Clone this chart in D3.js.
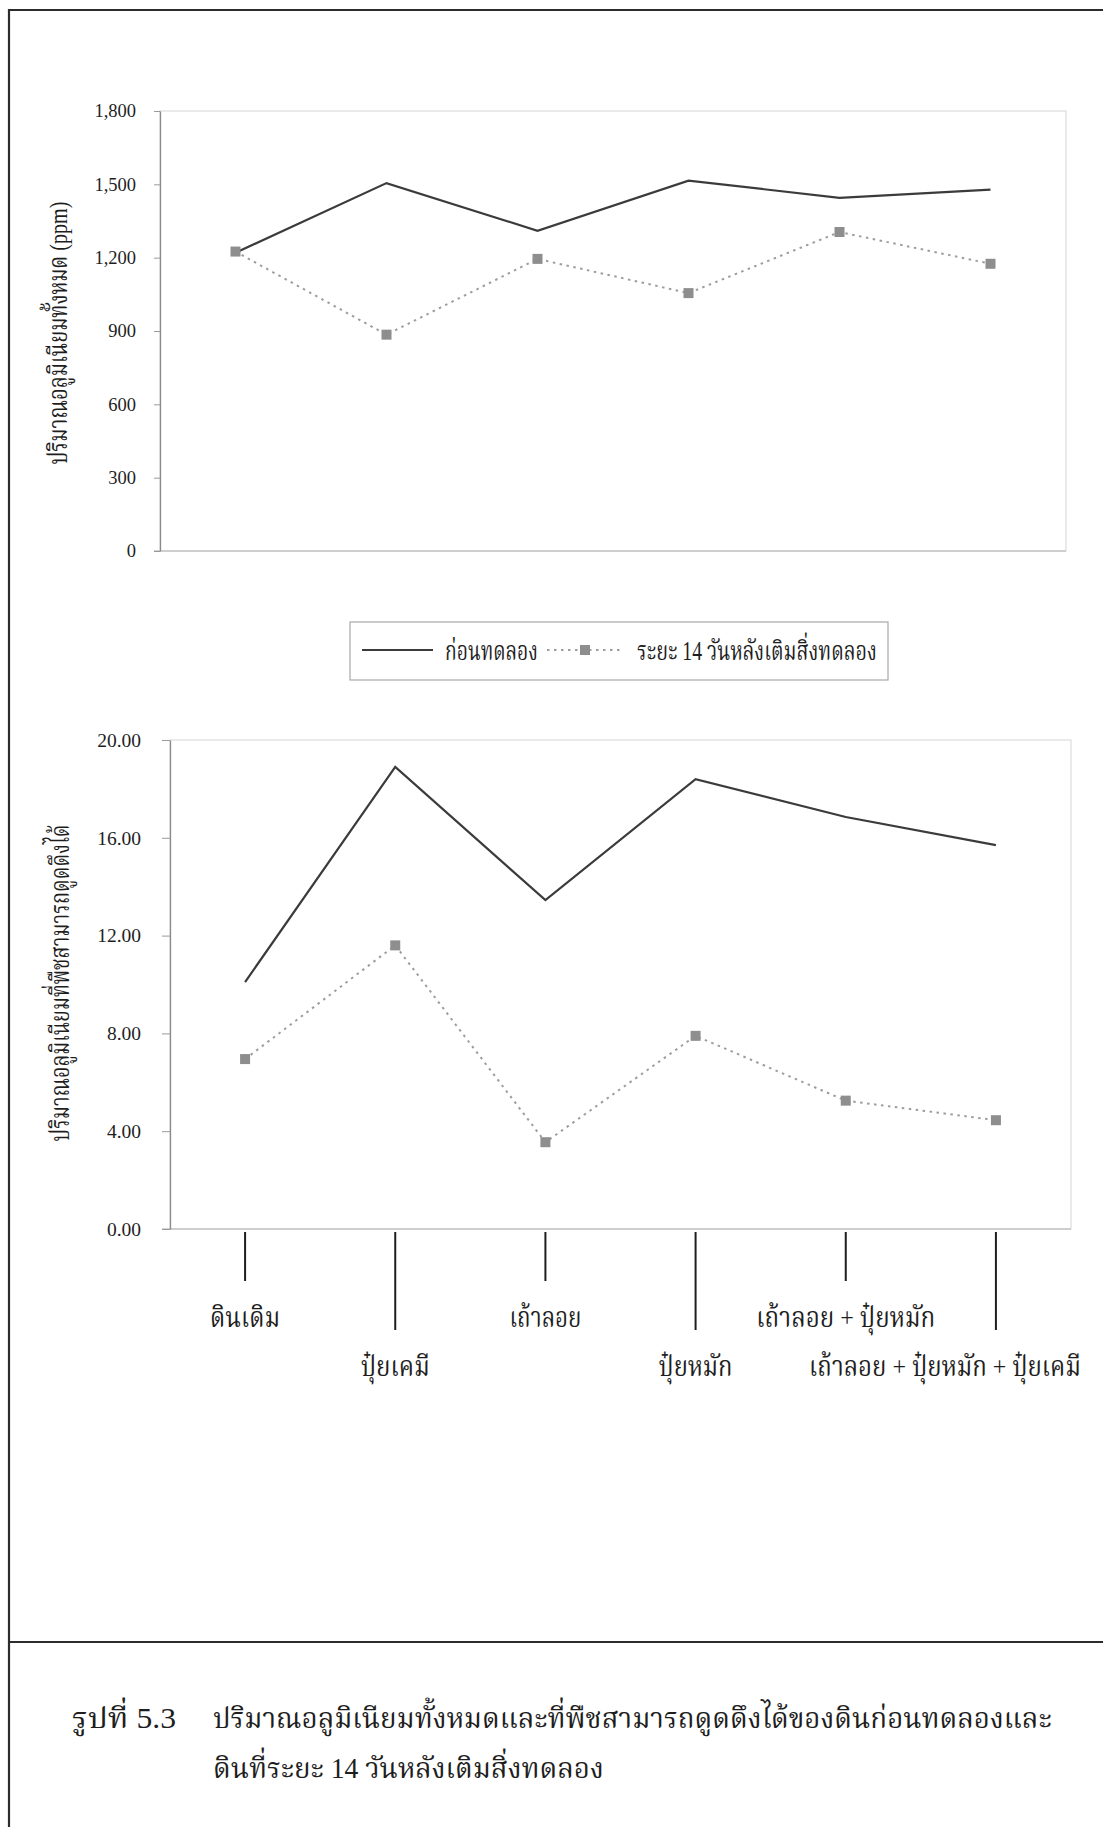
<!DOCTYPE html>
<html>
<head>
<meta charset="utf-8">
<script src="https://cdn.jsdelivr.net/npm/d3@7"></script>
<style>
  html, body { margin: 0; padding: 0; background: #ffffff; }
  svg { display: block; }
</style>
</head>
<body>
<svg id="fig" width="1103" height="1827"></svg>
<script>
// ---- data ----
const categories = [
  "ดินเดิม",
  "ปุ๋ยเคมี",
  "เถ้าลอย",
  "ปุ๋ยหมัก",
  "เถ้าลอย + ปุ๋ยหมัก",
  "เถ้าลอย + ปุ๋ยหมัก + ปุ๋ยเคมี"
];
const seriesNames = ["ก่อนทดลอง", "ระยะ 14 วันหลังเติมสิ่งทดลอง"];

// total aluminium (ppm)
const totalBefore = [1220, 1505, 1310, 1515, 1445, 1478];
const totalAfter14 = [1225, 885, 1195, 1055, 1305, 1175];

// plant-available aluminium
const availBefore = [10.1, 18.9, 13.45, 18.4, 16.85, 15.7];
const availAfter14 = [6.95, 11.6, 3.55, 7.9, 5.25, 4.45];

const totalTicks = [0, 300, 600, 900, 1200, 1500, 1800];
const availTicks = [0, 4, 8, 12, 16, 20];

const totalTitle = "ปริมาณอลูมิเนียมทั้งหมด (ppm)";
const availTitle = "ปริมาณอลูมิเนียมที่พืชสามารถดูดดึงได้";
const captionNo = "รูปที่ 5.3";
const captionLines = [
  "ปริมาณอลูมิเนียมทั้งหมดและที่พืชสามารถดูดดึงได้ของดินก่อนทดลองและ",
  "ดินที่ระยะ 14 วันหลังเติมสิ่งทดลอง"
];

// ---- styling ----
const textFont = "'Liberation Serif', 'Noto Serif Thai', 'Noto Sans Thai', 'Loma', 'Garuda', 'Norasi', serif";
const numFont = "'Liberation Serif', 'Times New Roman', serif";
const inkColor = "#1e1e1e";
const solidColor = "#3b3b3b";
const dotColor = "#9d9d9d";
const markerColor = "#8e8e8e";
const frameColor = "#2c2c2c";

// Thai text squeezed horizontally to a given width (narrow document face)
function fitText(parent, str, o) {
  const t = parent.append("text")
    .attr("font-family", textFont).attr("font-size", o.size)
    .attr("fill", inkColor).attr("text-anchor", o.anchor || "start")
    .text(str);
  const natural = t.node().getComputedTextLength() || o.w;
  const sx = o.w / natural;
  t.attr("transform",
    `translate(${o.x},${o.y})${o.rotate ? ` rotate(${o.rotate})` : ""} scale(${sx},1)`);
  return t;
}

const svg = d3.select("#fig");

// page frame and caption separator
svg.append("path")
  .attr("d", "M9,1830 V10 H1110")
  .attr("fill", "none").attr("stroke", frameColor).attr("stroke-width", 2.2);
svg.append("line")
  .attr("x1", 9).attr("x2", 1110).attr("y1", 1642).attr("y2", 1642)
  .attr("stroke", frameColor).attr("stroke-width", 2.2);

function drawPanel(p) {
  const x = d3.scaleBand().domain(categories).range([p.x0, p.x1]);
  const y = d3.scaleLinear().domain([0, d3.max(p.ticks)]).range([p.y1, p.y0]);
  const cx = c => x(c) + x.bandwidth() / 2;
  const g = svg.append("g");

  // plot area outline
  g.append("rect")
    .attr("x", p.x0).attr("y", p.y0)
    .attr("width", p.x1 - p.x0).attr("height", p.y1 - p.y0)
    .attr("fill", "none").attr("stroke", "#d5d5d5").attr("stroke-width", 1);
  g.append("line")
    .attr("x1", p.x0 - p.tickSize).attr("x2", p.x1)
    .attr("y1", y(0)).attr("y2", y(0))
    .attr("stroke", "#c4c4c4").attr("stroke-width", 1.6);

  // value axis
  const ax = g.append("g")
    .attr("transform", `translate(${p.x0},0)`)
    .call(d3.axisLeft(y).tickValues(p.ticks).tickFormat(p.fmt)
      .tickSize(p.tickSize).tickPadding(p.tickPad).tickSizeOuter(0));
  ax.select(".domain").attr("stroke", "#8a8a8a").attr("stroke-width", 1.3);
  ax.selectAll(".tick line").attr("stroke", "#9a9a9a").attr("stroke-width", 1);
  ax.selectAll(".tick text")
    .attr("font-family", numFont).attr("font-size", p.numSize).attr("fill", inkColor);

  // axis title
  fitText(g, p.title, { x: p.titleX, y: p.titleY, w: p.titleW, size: 26, anchor: "middle", rotate: -90 });

  // series
  const line = d3.line().x((d, i) => cx(categories[i])).y(d => y(d));
  g.append("path").datum(p.before).attr("d", line)
    .attr("fill", "none").attr("stroke", solidColor).attr("stroke-width", 2.2)
    .attr("stroke-linejoin", "miter");
  g.append("path").datum(p.after).attr("d", line)
    .attr("fill", "none").attr("stroke", dotColor).attr("stroke-width", 2)
    .attr("stroke-dasharray", "2.5,4.5");
  g.selectAll("rect.mk").data(p.after).join("rect").attr("class", "mk")
    .attr("x", (d, i) => cx(categories[i]) - 5).attr("y", d => y(d) - 5)
    .attr("width", 10).attr("height", 10).attr("fill", markerColor);

  return { x, y, cx };
}

const totalPanel = drawPanel({
  x0: 160, x1: 1066, y0: 111, y1: 551,
  ticks: totalTicks, fmt: d3.format(","), tickSize: 6, tickPad: 18, numSize: 18.5,
  title: totalTitle, titleX: 67, titleY: 333, titleW: 263,
  before: totalBefore, after: totalAfter14
});

const availPanel = drawPanel({
  x0: 170, x1: 1071, y0: 740, y1: 1229,
  ticks: availTicks, fmt: d3.format(".2f"), tickSize: 8, tickPad: 21, numSize: 19.5,
  title: availTitle, titleX: 69, titleY: 983, titleW: 317,
  before: availBefore, after: availAfter14
});

// legend
const lg = svg.append("g");
lg.append("rect").attr("x", 350).attr("y", 622).attr("width", 538).attr("height", 58)
  .attr("fill", "#fff").attr("stroke", "#a8a8a8").attr("stroke-width", 1.2);
lg.append("line").attr("x1", 362).attr("x2", 433).attr("y1", 650).attr("y2", 650)
  .attr("stroke", solidColor).attr("stroke-width", 2.2);
fitText(lg, seriesNames[0], { x: 445, y: 660, w: 93, size: 27 });
lg.append("line").attr("x1", 547).attr("x2", 620).attr("y1", 650).attr("y2", 650)
  .attr("stroke", dotColor).attr("stroke-width", 2).attr("stroke-dasharray", "2.5,4.5");
lg.append("rect").attr("x", 580).attr("y", 645).attr("width", 10).attr("height", 10)
  .attr("fill", markerColor);
fitText(lg, seriesNames[1], { x: 637, y: 660, w: 240, size: 27 });

// category ticks and labels under the lower panel (two staggered rows);
// a long name is pulled back so it stays inside the page
const catWidths = [70, 69, 72, 74, 179, 272];
const labelRight = 1081;
const cg = svg.append("g");
categories.forEach((c, i) => {
  const xc = availPanel.cx(c);
  const lower = i % 2 === 1;
  cg.append("line")
    .attr("x1", xc).attr("x2", xc)
    .attr("y1", 1232).attr("y2", lower ? 1330 : 1281)
    .attr("stroke", inkColor).attr("stroke-width", 2);
  const w = catWidths[i];
  const lx = Math.min(xc, labelRight - w / 2);
  fitText(cg, c, { x: lx, y: lower ? 1376 : 1327, w, size: 28, anchor: "middle" });
});

// caption
const cap = svg.append("g");
fitText(cap, captionNo, { x: 72, y: 1728, w: 104, size: 29 });
fitText(cap, captionLines[0], { x: 213, y: 1728, w: 839, size: 29 });
fitText(cap, captionLines[1], { x: 213, y: 1778, w: 391, size: 29 });
</script>
</body>
</html>
